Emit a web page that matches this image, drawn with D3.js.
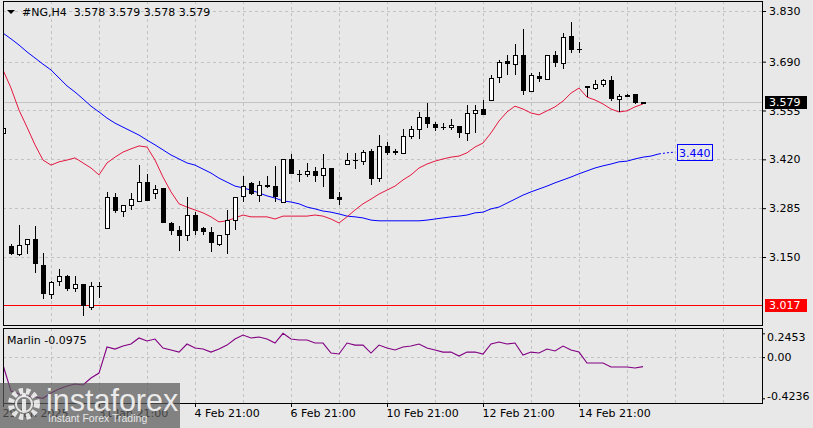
<!DOCTYPE html>
<html><head><meta charset="utf-8">
<script src="https://cdn.jsdelivr.net/npm/d3@7"></script>
<style>body{margin:0;background:#e8e8e8;} svg{display:block}</style>
</head><body><svg id="c" width="813" height="428"></svg>
<script>
// ---- DATA (H4 bars, index 0 = 29 Jan 2025) ----
const opens = [3.493,3.181,3.158,3.186,3.200,3.128,3.048,3.084,3.098,3.064,
3.075,3.012,3.070,3.230,3.316,3.277,3.294,3.305,3.357,3.327,
3.341,3.244,3.225,3.211,3.266,3.230,3.219,3.186,3.214,3.252,
3.319,3.355,3.321,3.349,3.346,3.302,3.421,3.380,3.380,3.388,
3.377,3.396,3.316,3.407,3.418,3.415,3.443,3.368,3.457,3.443,
3.438,3.485,3.504,3.537,3.518,3.509,3.509,3.512,3.493,3.548,
3.559,3.584,3.648,3.692,3.683,3.708,3.609,3.650,3.642,3.708,
3.686,3.761,3.725,3.623,3.617,3.628,3.639,3.587,3.598,3.601,
3.578];
const highs = [3.584,3.186,3.239,3.200,3.236,3.161,3.084,3.117,3.100,3.098,
3.075,3.081,3.081,3.330,3.327,3.294,3.327,3.404,3.380,3.349,
3.341,3.247,3.236,3.316,3.274,3.233,3.233,3.211,3.280,3.316,
3.374,3.357,3.360,3.374,3.402,3.421,3.435,3.391,3.410,3.399,
3.435,3.396,3.330,3.438,3.438,3.446,3.449,3.487,3.468,3.449,
3.504,3.512,3.551,3.576,3.523,3.520,3.532,3.512,3.570,3.570,
3.584,3.653,3.695,3.708,3.739,3.780,3.659,3.661,3.708,3.719,
3.769,3.800,3.744,3.623,3.639,3.642,3.650,3.601,3.601,3.601,
3.579];
const lows = [3.482,3.156,3.153,3.158,3.106,3.034,3.034,3.070,3.056,3.053,
2.987,3.004,3.037,3.230,3.272,3.261,3.280,3.305,3.305,3.310,
3.244,3.211,3.167,3.194,3.211,3.211,3.164,3.181,3.158,3.225,
3.302,3.321,3.302,3.341,3.302,3.302,3.380,3.357,3.371,3.357,
3.344,3.310,3.294,3.407,3.393,3.404,3.349,3.357,3.432,3.432,
3.438,3.476,3.476,3.507,3.498,3.501,3.501,3.479,3.471,3.493,
3.543,3.581,3.631,3.653,3.653,3.598,3.609,3.634,3.642,3.675,
3.670,3.714,3.714,3.592,3.612,3.620,3.581,3.551,3.592,3.573,
3.578];
const closes = [3.507,3.158,3.183,3.200,3.131,3.048,3.081,3.098,3.062,3.075,
3.015,3.070,3.067,3.316,3.277,3.294,3.310,3.357,3.305,3.338,
3.244,3.222,3.208,3.266,3.222,3.219,3.189,3.211,3.252,3.316,
3.346,3.324,3.349,3.350,3.316,3.421,3.380,3.380,3.388,3.374,
3.396,3.310,3.308,3.418,3.418,3.440,3.366,3.457,3.438,3.438,
3.485,3.504,3.537,3.518,3.507,3.509,3.515,3.493,3.548,3.556,
3.543,3.645,3.689,3.683,3.708,3.609,3.653,3.642,3.708,3.686,
3.758,3.722,3.725,3.617,3.628,3.639,3.587,3.595,3.592,3.576,
3.579];
const maFast = [3.667,3.617,3.556,3.509,3.460,3.418,3.404,3.413,3.418,3.424,
3.410,3.396,3.377,3.410,3.426,3.440,3.449,3.457,3.454,3.418,
3.371,3.330,3.297,3.288,3.280,3.272,3.261,3.247,3.250,3.258,
3.266,3.261,3.261,3.261,3.255,3.263,3.263,3.263,3.263,3.266,
3.263,3.255,3.244,3.261,3.280,3.297,3.310,3.324,3.335,3.346,
3.363,3.377,3.396,3.407,3.415,3.421,3.426,3.429,3.438,3.454,
3.465,3.493,3.526,3.551,3.567,3.559,3.548,3.543,3.554,3.565,
3.581,3.603,3.617,3.592,3.584,3.573,3.559,3.551,3.554,3.565,
3.573];
const maSlow = [3.769,3.753,3.736,3.717,3.700,3.683,3.667,3.645,3.623,3.606,
3.587,3.567,3.551,3.534,3.520,3.509,3.498,3.487,3.473,3.460,
3.446,3.432,3.421,3.410,3.404,3.393,3.382,3.368,3.357,3.346,
3.341,3.335,3.327,3.319,3.313,3.305,3.302,3.297,3.288,3.283,
3.277,3.274,3.269,3.263,3.261,3.258,3.252,3.250,3.250,3.250,
3.250,3.250,3.250,3.252,3.255,3.258,3.261,3.263,3.266,3.272,
3.274,3.283,3.288,3.299,3.310,3.321,3.330,3.338,3.346,3.355,
3.363,3.371,3.380,3.388,3.396,3.402,3.407,3.413,3.415,3.421,
3.426,3.429,3.435];
const maSlowFuture = [3.435,3.438,3.440]; // bars 82..84, dashed
const marlin = [-0.081,-0.349,-0.380,-0.400,-0.410,-0.4236,-0.369,-0.328,-0.297,-0.277,
-0.287,-0.215,-0.164,0.104,0.083,0.114,0.135,0.197,0.166,0.186,
0.094,0.073,0.052,0.135,0.094,0.083,0.052,0.083,0.124,0.186,
0.227,0.197,0.207,0.186,0.145,0.2453,0.186,0.176,0.176,0.145,
0.145,0.042,0.032,0.145,0.124,0.124,0.042,0.124,0.094,0.073,
0.104,0.114,0.135,0.094,0.073,0.052,0.052,0.011,0.052,0.052,
0.032,0.135,0.155,0.135,0.145,0.022,0.052,0.042,0.083,0.063,
0.114,0.073,0.052,-0.061,-0.061,-0.061,-0.102,-0.102,-0.102,-0.112,
-0.0975];
const priceTicks = [3.830,3.690,3.555,3.420,3.285,3.150];
const timeTickIndex = [0,12,24,36,48,60,72];
const timeTickLabels = ["29 Jan 2025","31 Jan 21:00","4 Feb 21:00","6 Feb 21:00","10 Feb 21:00","12 Feb 21:00","14 Feb 21:00"];
const marlinTicks = [0.2453, 0.00, -0.4236];
const lastPrice = 3.579, supportLevel = 3.017, slowLabel = 3.440;
const symbolTitle = "#NG,H4", indicatorName = "Marlin";

// ---- LAYOUT ----
const svg = d3.select("#c");
const FONT = "DejaVu Sans, sans-serif";
const P = {x0:3, x1:763, y0:1, y1:326};
const I = {x0:3, x1:763, y0:328, y1:404};
const x = d3.scaleLinear().domain([0,95]).range([3,763]);
const y = d3.scaleLinear().domain([3.150,3.830]).range([257,11]);
const yM = d3.scaleLinear().domain([-0.4236,0.2453]).range([398.3,333.3]);
const GRID = "#c2c2c2";

svg.append("rect").attr("width",813).attr("height",428).attr("fill","#e8e8e8");

const defs = svg.append("defs");
defs.append("clipPath").attr("id","cm").append("rect").attr("x",P.x0).attr("y",P.y0).attr("width",P.x1-P.x0).attr("height",P.y1-P.y0);
defs.append("clipPath").attr("id","ci").append("rect").attr("x",I.x0).attr("y",I.y0).attr("width",I.x1-I.x0).attr("height",I.y1-I.y0);

const gm = svg.append("g").attr("clip-path","url(#cm)");
const gi = svg.append("g").attr("clip-path","url(#ci)");

// vertical grid
const gridIdx = d3.range(6, 96, 6);
[ [gm,P], [gi,I] ].forEach(([g,p]) => {
  g.selectAll(null).data(gridIdx).join("line")
   .attr("x1", d=>Math.round(x(d))+0.5).attr("x2", d=>Math.round(x(d))+0.5)
   .attr("y1", p.y0).attr("y2", p.y1)
   .attr("stroke", GRID).attr("stroke-dasharray","3,3");
});
// horizontal grid main
gm.selectAll(null).data(priceTicks).join("line")
  .attr("x1",P.x0).attr("x2",P.x1)
  .attr("y1", d=>Math.round(y(d))+0.5).attr("y2", d=>Math.round(y(d))+0.5)
  .attr("stroke", GRID).attr("stroke-dasharray","3,3");
// zero level indicator
gi.append("line").attr("x1",I.x0).attr("x2",I.x1)
  .attr("y1",Math.round(yM(0))+0.5).attr("y2",Math.round(yM(0))+0.5)
  .attr("stroke",GRID).attr("stroke-dasharray","3,3");

// price line and support level
gm.append("line").attr("x1",P.x0).attr("x2",P.x1)
  .attr("y1",Math.round(y(lastPrice))+0.5).attr("y2",Math.round(y(lastPrice))+0.5)
  .attr("stroke","#c4c4c4");
gm.append("line").attr("x1",P.x0).attr("x2",P.x1)
  .attr("y1",Math.round(y(supportLevel))+0.5).attr("y2",Math.round(y(supportLevel))+0.5)
  .attr("stroke","#ff0000");

// moving averages
const line = d3.line().x((d,i)=>x(i)).y(d=>y(d));
gm.append("path").attr("d", line(maSlow)).attr("fill","none").attr("stroke","#0000ff").attr("stroke-width",1);
gm.append("path").attr("d", d3.line().x((d,i)=>x(82+i)).y(d=>y(d))(maSlowFuture))
  .attr("fill","none").attr("stroke","#0000ff").attr("stroke-dasharray","2,2");
gm.append("path").attr("d", line(maFast)).attr("fill","none").attr("stroke","#e5173f").attr("stroke-width",1);

// candles
const gc = gm.append("g").attr("shape-rendering","crispEdges");
opens.forEach((o,i) => {
  const c = closes[i], h = highs[i], l = lows[i];
  const xc = Math.round(x(i));
  const yh = Math.round(y(h)), yl = Math.round(y(l));
  gc.append("rect").attr("x",xc).attr("y",yh).attr("width",1).attr("height",Math.max(1,yl-yh)).attr("fill","#000");
  const top = Math.round(y(Math.max(o,c))), bot = Math.round(y(Math.min(o,c)));
  const hgt = Math.max(1, bot-top);
  gc.append("rect").attr("x",xc-2).attr("y",top).attr("width",5).attr("height",hgt+ (c>o?1:0)).attr("fill","#000");
  if (c > o && hgt > 1) {
    gc.append("rect").attr("x",xc-1).attr("y",top+1).attr("width",3).attr("height",hgt-1).attr("fill","#fff");
  }
});

// marlin
gi.append("path").attr("d", d3.line().x((d,i)=>x(i)).y(d=>yM(d))(marlin))
  .attr("fill","none").attr("stroke","#820082").attr("stroke-width",1.1);

// panel borders
svg.append("rect").attr("x",P.x0+0.5).attr("y",P.y0+0.5).attr("width",P.x1-P.x0-1).attr("height",P.y1-P.y0-1)
  .attr("fill","none").attr("stroke","#000");
svg.append("rect").attr("x",I.x0+0.5).attr("y",I.y0+0.5).attr("width",I.x1-I.x0-1).attr("height",I.y1-I.y0-1)
  .attr("fill","none").attr("stroke","#000");

// price axis
const ay = svg.append("g").attr("transform",`translate(${P.x1-1},0)`)
  .call(d3.axisRight(y).tickValues(priceTicks).tickFormat(d3.format(".3f")).tickSize(4).tickPadding(3));
ay.select(".domain").remove();
ay.selectAll("text").attr("font-family",FONT).attr("font-size",11).attr("fill","#000");
ay.selectAll("line").attr("stroke","#000");

// indicator axis
const ai = svg.append("g").attr("transform",`translate(${I.x1-1},0)`)
  .call(d3.axisRight(yM).tickValues(marlinTicks).tickFormat(d => d===0 ? "0.00" : String(d)).tickSize(3).tickPadding(2));
ai.select(".domain").remove();
ai.selectAll("text").attr("font-family",FONT).attr("font-size",11).attr("fill","#000")
  .attr("y", d => Math.min(I.y1-8, Math.max(I.y0+9, yM(d))) - yM(d));
ai.selectAll("line").attr("stroke","#000");

// time axis
const ax = svg.append("g").attr("transform",`translate(0,${I.y1-1})`)
  .call(d3.axisBottom(x).tickValues(timeTickIndex).tickFormat((d,i)=>timeTickLabels[i]).tickSize(4).tickPadding(2));
ax.select(".domain").remove();
ax.selectAll("text").attr("font-family",FONT).attr("font-size",11).attr("fill","#000").attr("text-anchor","start").attr("dx",-1);
ax.selectAll("line").attr("stroke","#000");

// price labels
function priceTag(v, bg, fg, border) {
  const yc = y(v);
  svg.append("rect").attr("x",765).attr("y",Math.round(yc)-6).attr("width",42).attr("height",13)
    .attr("fill",bg).attr("stroke",border||"none");
  svg.append("text").attr("x",769).attr("y",yc).attr("dy","0.36em")
    .attr("font-family",FONT).attr("font-size",11).attr("fill",fg).text(d3.format(".3f")(v));
}
priceTag(lastPrice, "#000", "#fff");
priceTag(supportLevel, "#ff0000", "#fff");

// slow MA label
const sy = y(slowLabel);
svg.append("rect").attr("x",677.5).attr("y",Math.round(sy)-7.5).attr("width",35).attr("height",16)
  .attr("fill","none").attr("stroke","#0000ff");
svg.append("text").attr("x",679).attr("y",sy+1).attr("dy","0.36em")
  .attr("font-family",FONT).attr("font-size",11).attr("fill","#0000ff").text(d3.format(".3f")(slowLabel));

// header
svg.append("path").attr("d","M7,10 L15,10 L11,14 Z").attr("fill","#000");
svg.append("text").attr("x",22).attr("y",12).attr("dy","0.36em")
  .attr("font-family",FONT).attr("font-size",11).attr("fill","#000").attr("xml:space","preserve")
  .text(`${symbolTitle}  ${d3.format(".3f")(opens[80])} ${d3.format(".3f")(highs[80])} ${d3.format(".3f")(lows[80])} ${d3.format(".3f")(closes[80])}`);
svg.append("text").attr("x",7).attr("y",340).attr("dy","0.36em")
  .attr("font-family",FONT).attr("font-size",11).attr("fill","#000")
  .text(`${indicatorName} ${marlin[marlin.length-1]}`);

// watermark
const wm = svg.append("g");
wm.append("rect").attr("x",0).attr("y",383).attr("width",180).attr("height",45).attr("fill","#5a5a5a").attr("opacity",0.72);
wm.append("circle").attr("cx",24).attr("cy",404).attr("r",13).attr("fill","none").attr("stroke","#f2f2f2")
  .attr("stroke-width",6).attr("stroke-dasharray","4,3").attr("opacity",0.9);
wm.append("circle").attr("cx",24).attr("cy",404).attr("r",8).attr("fill","none").attr("stroke","#f2f2f2").attr("stroke-width",2).attr("opacity",0.9);
wm.append("rect").attr("x",22).attr("y",399).attr("width",4).attr("height",12).attr("fill","#f2f2f2").attr("opacity",0.9);
wm.append("circle").attr("cx",24).attr("cy",395).attr("r",2.2).attr("fill","#f2f2f2").attr("opacity",0.9);
wm.append("text").attr("x",46).attr("y",411).attr("font-family","Liberation Sans, Arial, sans-serif").attr("font-size",30.5)
  .attr("fill","#f4f4f4").attr("opacity",0.92).text("instaforex");
wm.append("text").attr("x",48).attr("y",422).attr("font-family","Liberation Sans, Arial, sans-serif").attr("font-size",10.5)
  .attr("fill","#e6e6e6").text("Instant Forex Trading");
</script></body></html>
